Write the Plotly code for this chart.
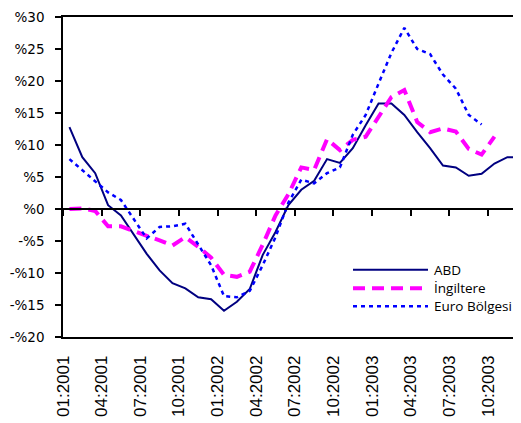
import plotly.graph_objects as go

months = [f"{m:02d}:{y}" for y in (2001, 2002, 2003) for m in range(1, 13)]
tick_labels = ["01:2001", "04:2001", "07:2001", "10:2001",
               "01:2002", "04:2002", "07:2002", "10:2002",
               "01:2003", "04:2003", "07:2003", "10:2003"]

abd = [12.8, 8.1, 5.6, 0.6, -1.0, -4.0, -7.0, -9.6, -11.6, -12.4, -13.8, -14.1,
       -15.9, -14.5, -12.5, -7.2, -3.6, 0.6, 3.0, 4.4, 7.8, 7.2, 9.5, 13.1,
       16.5, 16.5, 14.7, 12.0, 9.5, 6.8, 6.5, 5.2, 5.5, 7.1, 8.1, 8.1]

ingiltere = [0.0, 0.1, -0.3, -2.7, -2.7, -3.5, -4.2, -4.9, -5.7, -4.4, -5.9, -7.6,
             -10.3, -10.6, -9.8, -5.6, -1.0, 2.3, 6.5, 6.1, 10.9, 9.2, 10.8, 11.3,
             14.4, 17.5, 18.6, 13.6, 12.0, 12.6, 12.1, 9.4, 8.5, 11.3, None, None]

euro = [7.8, 6.1, 4.4, 2.6, 1.4, -1.6, -4.6, -2.8, -2.7, -2.3, -5.6, -8.8,
        -13.6, -13.8, -12.8, -8.8, -4.4, 1.0, 4.6, 4.0, 5.6, 6.5, 11.6, 14.7,
        19.6, 24.4, 28.3, 25.0, 24.2, 21.0, 18.8, 14.7, 13.2, None, None, None]

y_ticks = [30, 25, 20, 15, 10, 5, 0, -5, -10, -15, -20]
y_tick_text = [("%" + str(v)) if v >= 0 else ("-%" + str(-v)) for v in y_ticks]

xpos = [i + 0.5 for i in range(len(months))]
tickpos = [i * 3 for i in range(len(tick_labels))]

navy = "#000080"
magenta = "#FF00FF"
blue = "#0000FF"

fig = go.Figure()
fig.add_trace(go.Scatter(x=xpos, y=abd, name="ABD", mode="lines",
                         line=dict(color=navy, width=2), showlegend=False,
                         text=months))
fig.add_trace(go.Scatter(x=xpos, y=ingiltere, name="İngiltere", mode="lines",
                         line=dict(color=magenta, width=4, dash="12px,7px"),
                         showlegend=False, text=months))
fig.add_trace(go.Scatter(x=xpos, y=euro, name="Euro Bölgesi", mode="lines",
                         line=dict(color=blue, width=2.5, dash="4px,4px"),
                         showlegend=False, text=months))
# helper trace for the zero-crossing category axis
fig.add_trace(go.Scatter(x=[None], y=[None], xaxis="x2", showlegend=False,
                         hoverinfo="skip"))

xr = [0, 458 / 12.88]

# the page body adds an 8px margin, so the figure is 8px smaller than the window
fig.update_layout(
    width=513, height=415,
    margin=dict(l=55, r=0, t=9, b=86),
    paper_bgcolor="white", plot_bgcolor="white",
    font=dict(family="DejaVu Sans", size=13, color="black"),
    xaxis=dict(range=xr, tickmode="array", tickvals=tickpos, ticktext=tick_labels,
               tickangle=-90, ticks="", showgrid=False, zeroline=False,
               showline=True, linecolor="black", linewidth=1.5, mirror=True,
               tickfont=dict(family="Liberation Sans, Arial", size=17, color="black"),
               ticklabelstandoff=10, automargin=False),
    xaxis2=dict(range=xr, overlaying="x", anchor="free", position=0.4,
                tickmode="array", tickvals=tickpos, ticks="outside", ticklen=6,
                tickcolor="black", tickwidth=1.5, showticklabels=False,
                showgrid=False, zeroline=False, showline=True,
                linecolor="black", linewidth=1.5, automargin=False),
    yaxis=dict(range=[-20, 30], tickmode="array", tickvals=y_ticks,
               ticktext=y_tick_text, ticks="outside", ticklen=6,
               tickcolor="black", tickwidth=1.5, showgrid=False, zeroline=False,
               showline=True, linecolor="black", linewidth=1.5,
               tickfont=dict(family="DejaVu Sans", size=13.5, color="black"),
               ticklabelstandoff=8, automargin=False),
)

# custom legend
legend_items = [("ABD", navy, 2, "solid", 270),
                ("İngiltere", magenta, 4, "12px,7px", 288.5),
                ("Euro Bölgesi", blue, 2.5, "4px,4px", 306.5)]
for name, col, w, dash, py in legend_items:
    yp = (337.3 - py) / 320
    fig.add_shape(type="line", xref="paper", yref="paper",
                  x0=(353 - 63) / 458, x1=(428 - 63) / 458, y0=yp, y1=yp,
                  line=dict(color=col, width=w, dash=dash))
    fig.add_annotation(xref="paper", yref="paper", x=(432 - 63) / 458, y=yp,
                       text=name, showarrow=False, xanchor="left", yanchor="middle",
                       font=dict(family="Open Sans", size=13.5, color="black"))

fig.write_html("out.html")
